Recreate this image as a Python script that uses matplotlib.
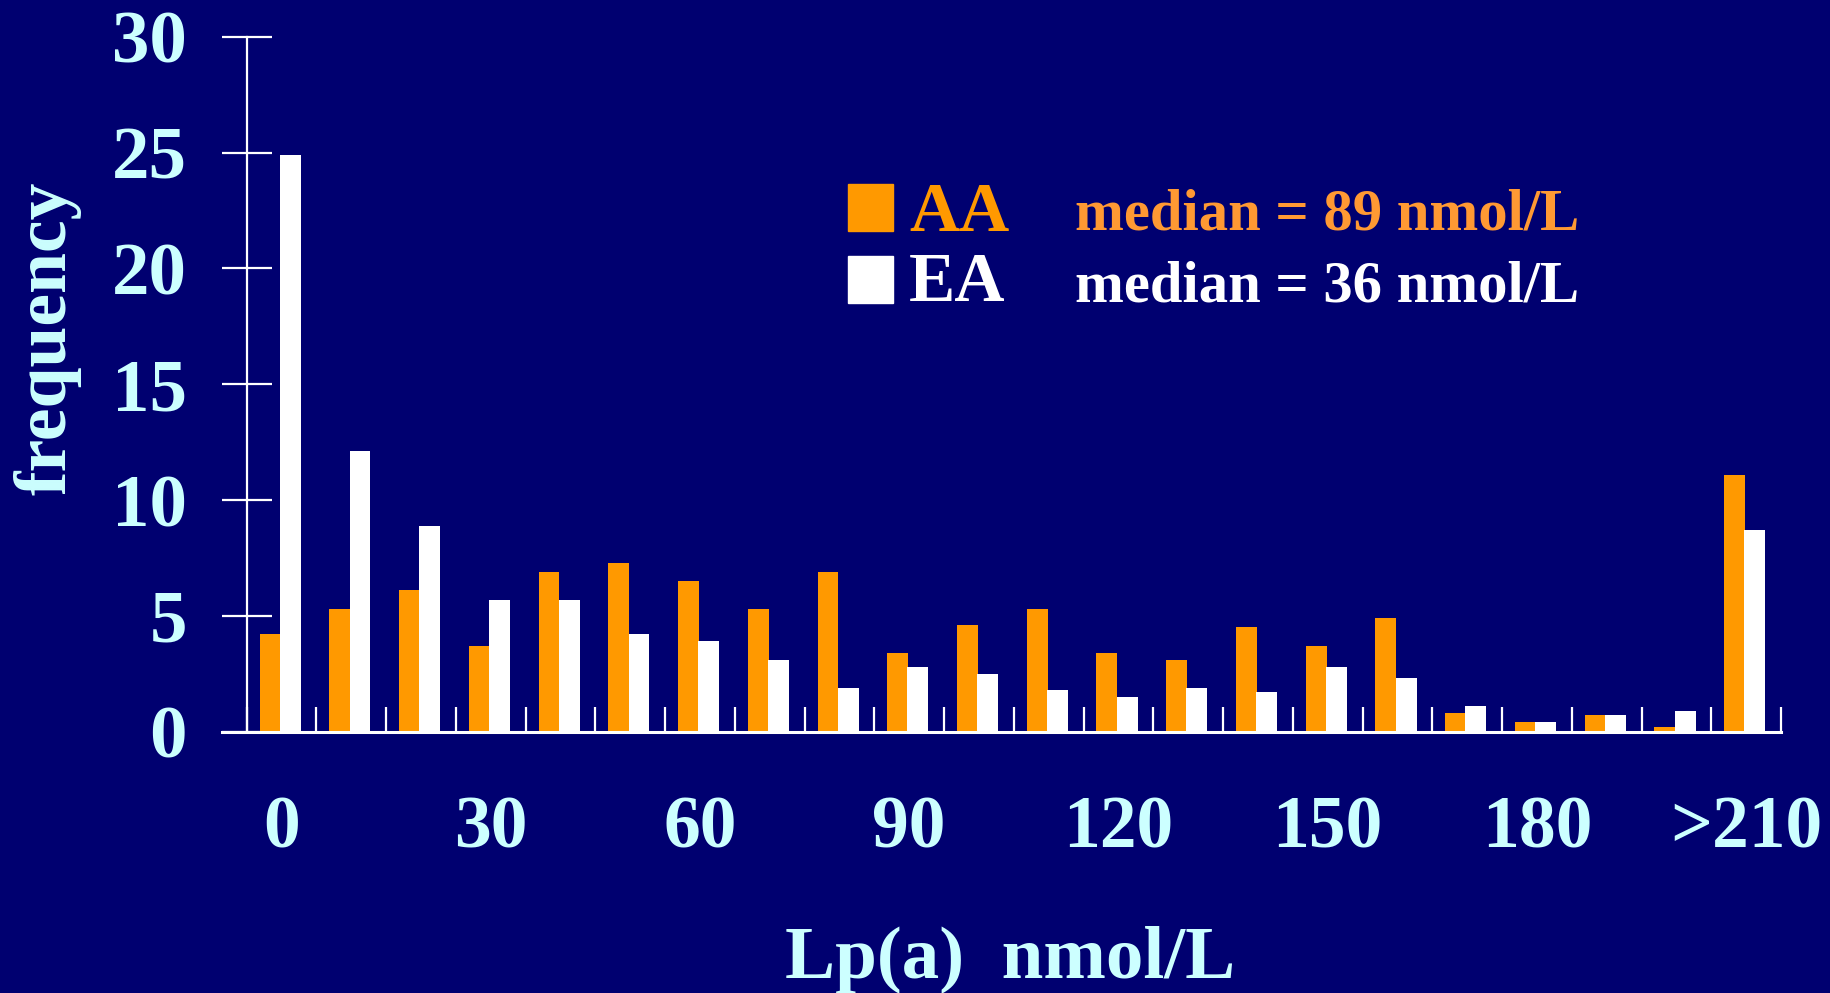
import matplotlib
matplotlib.use('Agg')
import matplotlib.pyplot as plt
from matplotlib.patches import Rectangle
import numpy as np

# frequency per 10 nmol/L bin
bins = ['0', '10', '20', '30', '40', '50', '60', '70', '80', '90', '100',
        '110', '120', '130', '140', '150', '160', '170', '180', '190', '200', '>210']
aa = [4.2, 5.3, 6.1, 3.7, 6.9, 7.3, 6.5, 5.3, 6.9, 3.4, 4.6,
      5.3, 3.4, 3.1, 4.5, 3.7, 4.9, 0.8, 0.4, 0.7, 0.2, 11.1]
ea = [24.9, 12.1, 8.9, 5.7, 5.7, 4.2, 3.9, 3.1, 1.9, 2.8, 2.5,
      1.8, 1.5, 1.9, 1.7, 2.8, 2.3, 1.1, 0.4, 0.7, 0.9, 8.7]
xtick_pos = [0, 3, 6, 9, 12, 15, 18, 21]
xtick_labels = ['0', '30', '60', '90', '120', '150', '180', '>210']
yticks = [0, 5, 10, 15, 20, 25, 30]

bg = '#000070'
orange = '#FF9900'
cyan = '#CCFFFF'

plt.rcParams['font.family'] = ['Liberation Serif', 'DejaVu Serif']
plt.rcParams['font.weight'] = 'bold'

W, H = 1830, 993
fig = plt.figure(figsize=(W / 100, H / 100), dpi=100, facecolor=bg)
ax = fig.add_axes([222 / W, 1 - 731.7 / H, (1781 - 222) / W, (731.7 - 36.7) / H])
ax.set_facecolor(bg)

x = np.arange(len(bins))
ax.bar(x - 0.165, aa, width=0.3, color=orange, zorder=2)
ax.bar(x + 0.125, ea, width=0.3, color='white', zorder=3)

ax.set_xlim(-0.854, 21.5)
ax.set_ylim(0, 30)

for s in ['top', 'right']:
    ax.spines[s].set_visible(False)
ax.spines['left'].set_position(('data', -0.5))
ax.spines['left'].set_color('white')
ax.spines['bottom'].set_color('white')
ax.spines['left'].set_linewidth(1.6)
ax.spines['bottom'].set_linewidth(2.2)

ax.set_yticks(yticks)
ax.set_yticklabels([str(v) for v in yticks])
ax.tick_params(axis='y', direction='inout', length=36, width=1.6, color='white',
               labelcolor=cyan, labelsize=54, pad=25)

ax.set_xticks(xtick_pos)
ax.set_xticklabels(xtick_labels)
ax.set_xticks(np.arange(-0.5, 22, 1), minor=True)
ax.tick_params(axis='x', which='major', length=0, labelcolor=cyan, labelsize=53, pad=46)
ax.tick_params(axis='x', which='minor', direction='in', length=18, width=1.6, color='white')

# legend
fig.patches.append(Rectangle((848 / W, 1 - 231 / H), 45 / W, 47 / H,
                             transform=fig.transFigure, color=orange))
fig.patches.append(Rectangle((848 / W, 1 - 303 / H), 45 / W, 47 / H,
                             transform=fig.transFigure, color='white'))
fig.text(909 / W, 1 - 231 / H, 'AA', color=orange, fontsize=50, va='baseline')
fig.text(909 / W, 1 - 301 / H, 'EA', color='white', fontsize=50, va='baseline')
fig.text(1075 / W, 1 - 230 / H, 'median = 89 nmol/L', color='#FF9933', fontsize=42.2, va='baseline')
fig.text(1075 / W, 1 - 301.5 / H, 'median = 36 nmol/L', color='white', fontsize=42.2, va='baseline')

fig.text(47 / W, 1 - 338 / H, 'frequency', color=cyan, fontsize=53, rotation=90,
         ha='center', va='center')
fig.text(1010 / W, 1 - 978 / H, 'Lp(a)  nmol/L', color=cyan, fontsize=54,
         ha='center', va='baseline')

fig.savefig('out.png', dpi=100, facecolor=bg)
